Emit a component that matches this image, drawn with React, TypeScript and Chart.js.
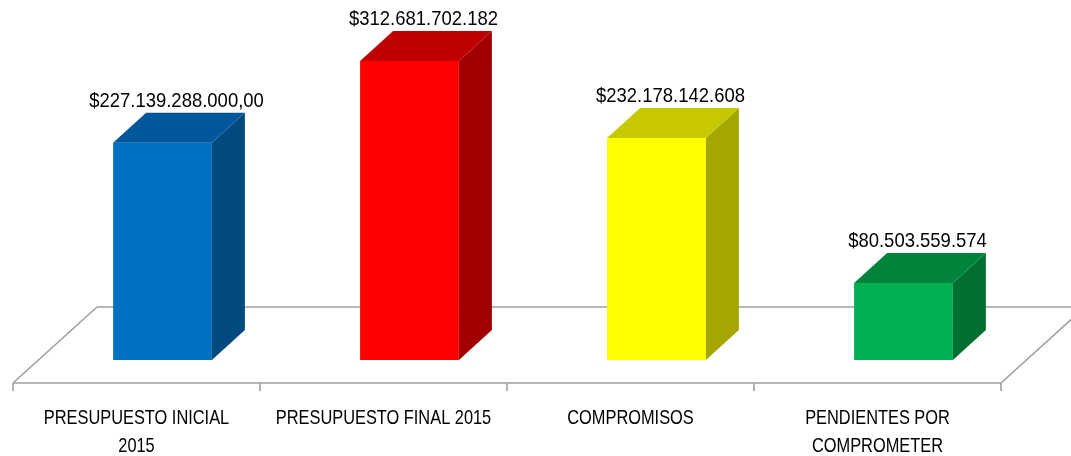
import React, { useEffect, useRef } from "react";
import { Chart, registerables } from "chart.js";

Chart.register(...registerables);

const categories: string[][] = [
  ["PRESUPUESTO INICIAL", "2015"],
  ["PRESUPUESTO FINAL 2015"],
  ["COMPROMISOS"],
  ["PENDIENTES POR", "COMPROMETER"],
];
const values: number[] = [227139288000, 312681702182, 232178142608, 80503559574];
const valueLabels: string[] = [
  "$227.139.288.000,00",
  "$312.681.702.182",
  "$232.178.142.608",
  "$80.503.559.574",
];
const frontColors: string[] = ["#0070C0", "#FF0000", "#FFFF00", "#00B050"];
const topColors: string[] = ["#00589B", "#C00000", "#C8C800", "#00843C"];
const sideColors: string[] = ["#004A80", "#A00000", "#A6A600", "#006F30"];

const FONT = "'Liberation Sans', Arial, sans-serif";
const DEPTH_X = 33;
const DEPTH_Y = -30;
const SHIFT = 26;

function drawNarrowText(ctx: CanvasRenderingContext2D, text: string, x: number, y: number, size: number, k: number) {
  ctx.save();
  ctx.translate(x, y);
  ctx.scale(k, 1);
  ctx.font = `${size}px ${FONT}`;
  ctx.textAlign = "center";
  ctx.textBaseline = "alphabetic";
  ctx.fillStyle = "#000000";
  ctx.fillText(text, 0, 0);
  ctx.restore();
}

const threeD = {
  id: "threeD",
  beforeDatasetsDraw(chart: any) {
    const ctx = chart.ctx;
    const x = chart.scales.x;
    const y = chart.scales.y;
    const base = y.getPixelForValue(0);
    const fl = x.left - SHIFT;
    const fr = x.right - SHIFT;
    const fy = base + 23;
    const bdx = 84;
    const bdy = -76;
    ctx.save();
    ctx.strokeStyle = "#A0A0A0";
    ctx.lineWidth = 1.6;
    ctx.beginPath();
    ctx.moveTo(fl + bdx, fy + bdy);
    ctx.lineTo(fr + bdx, fy + bdy);
    ctx.moveTo(fl, fy);
    ctx.lineTo(fl + bdx, fy + bdy);
    ctx.moveTo(fr, fy);
    ctx.lineTo(fr + bdx, fy + bdy);
    ctx.moveTo(fl, fy);
    ctx.lineTo(fr, fy);
    const n = categories.length;
    const w = (fr - fl) / n;
    for (let i = 0; i <= n; i++) {
      const tx = fl + i * w;
      ctx.moveTo(tx, fy);
      ctx.lineTo(tx, fy + 8);
    }
    ctx.stroke();
    ctx.restore();

    // category labels (narrow, tall text)
    categories.forEach((lines, i) => {
      const cx = x.getPixelForTick(i) - SHIFT;
      lines.forEach((line, j) => {
        drawNarrowText(ctx, line, cx, fy + 41 + j * 28, 21, 0.78);
      });
    });
  },
  afterDatasetsDraw(chart: any) {
    const ctx = chart.ctx;
    const meta = chart.getDatasetMeta(0);
    ctx.save();
    meta.data.forEach((bar: any, i: number) => {
      const { x, y, base, width } = bar.getProps(["x", "y", "base", "width"], true);
      const x0 = x - width / 2;
      const x1 = x + width / 2;
      ctx.fillStyle = sideColors[i];
      ctx.beginPath();
      ctx.moveTo(x1, y);
      ctx.lineTo(x1 + DEPTH_X, y + DEPTH_Y);
      ctx.lineTo(x1 + DEPTH_X, base + DEPTH_Y);
      ctx.lineTo(x1, base);
      ctx.closePath();
      ctx.fill();
      ctx.fillStyle = topColors[i];
      ctx.beginPath();
      ctx.moveTo(x0, y);
      ctx.lineTo(x0 + DEPTH_X, y + DEPTH_Y);
      ctx.lineTo(x1 + DEPTH_X, y + DEPTH_Y);
      ctx.lineTo(x1, y);
      ctx.closePath();
      ctx.fill();
      drawNarrowText(ctx, valueLabels[i], x + 14, y + DEPTH_Y - 6, 21, 0.88);
    });
    ctx.restore();
  },
};

export default function App() {
  const ref = useRef<HTMLCanvasElement | null>(null);
  useEffect(() => {
    if (!ref.current) return;
    const chart = new Chart(ref.current, {
      type: "bar",
      data: {
        labels: categories,
        datasets: [
          {
            data: values,
            backgroundColor: frontColors,
            borderWidth: 0,
            barPercentage: 0.8,
            categoryPercentage: 0.5,
          },
        ],
      },
      options: {
        responsive: false,
        animation: false,
        devicePixelRatio: 1,
        layout: { padding: { left: 39, right: 44, top: 0, bottom: 0 } },
        plugins: { legend: { display: false }, tooltip: { enabled: false } },
        scales: {
          x: {
            grid: { display: false, drawTicks: false },
            border: { display: false },
            ticks: { display: false, autoSkip: false },
            afterFit: (axis: any) => {
              axis.height = 96;
            },
          },
          y: {
            display: false,
            min: 0,
            max: 376.5e9,
          },
        },
      },
      plugins: [threeD],
    });
    return () => chart.destroy();
  }, []);
  return (
    <div style={{ position: "absolute", left: 0, top: 0, width: 1071, height: 456, background: "#fff" }}>
      <canvas ref={ref} width={1071} height={456} style={{ display: "block" }} />
    </div>
  );
}
